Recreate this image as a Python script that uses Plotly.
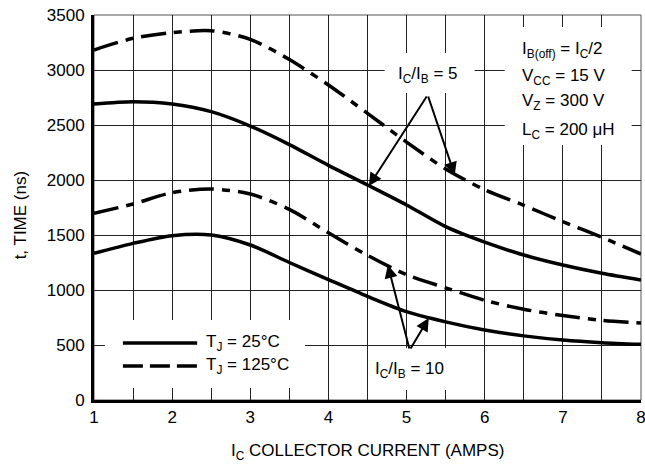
import plotly.graph_objects as go

# ---- data ----
ic_amps = [1, 1.5, 2, 2.5, 3, 3.5, 4, 4.5, 5, 5.5, 6, 6.5, 7, 7.5, 8]
t_25c_ratio10 = [1333, 1424, 1494, 1500, 1409, 1250, 1095, 942, 803, 710, 636, 583, 545, 521, 506]
t_125c_ratio10 = [1697, 1782, 1885, 1918, 1873, 1733, 1520, 1315, 1139, 1020, 906, 825, 768, 725, 700]
t_25c_ratio5 = [2691, 2712, 2691, 2621, 2490, 2322, 2133, 1955, 1773, 1576, 1435, 1318, 1227, 1152, 1091]
t_125c_ratio5 = [3182, 3288, 3339, 3357, 3279, 3095, 2864, 2606, 2345, 2100, 1912, 1770, 1621, 1479, 1327]

x_tick_vals = [1, 1.5, 2, 2.5, 3, 3.5, 4, 4.5, 5, 5.5, 6, 6.5, 7, 7.5, 8]
x_tick_text = ["1", "", "2", "", "3", "", "4", "", "5", "", "6", "", "7", "", "8"]
y_tick_vals = [0, 500, 1000, 1500, 2000, 2500, 3000, 3500]

FONT = "Liberation Sans, Arial, sans-serif"
DASH = "25px,8px,8px,8px"
LW = 3.5

fig = go.Figure()

series = [
    (t_25c_ratio5, "solid", "T_J = 25°C, IC/IB = 5"),
    (t_125c_ratio5, DASH, "T_J = 125°C, IC/IB = 5"),
    (t_25c_ratio10, "solid", "T_J = 25°C, IC/IB = 10"),
    (t_125c_ratio10, DASH, "T_J = 125°C, IC/IB = 10"),
]
for ys, dash, name in series:
    fig.add_trace(go.Scatter(
        x=ic_amps, y=ys, mode="lines", name=name, showlegend=False, hoverinfo="skip",
        line=dict(color="black", width=LW, dash=dash, shape="spline", smoothing=0.8),
    ))

# white boxes that interrupt the grid behind texts
boxes = [
    (6.256, 7.88, 2318, 3391),   # conditions
    (4.72, 5.87, 2791, 3155),    # IC/IB = 5
    (4.53, 5.51, 91, 473),       # IC/IB = 10
    (1.14, 3.70, 109, 727),      # legend
]
for x0, x1, y0, y1 in boxes:
    fig.add_shape(type="rect", xref="x", yref="y", x0=x0, x1=x1, y0=y0, y1=y1,
                  fillcolor="white", line=dict(width=0), layer="between")

# legend samples
fig.add_shape(type="line", xref="x", yref="y", x0=1.37, x1=2.32, y0=518, y1=518,
              line=dict(color="black", width=LW), layer="above")
fig.add_shape(type="line", xref="x", yref="y", x0=1.37, x1=2.32, y0=309, y1=309,
              line=dict(color="black", width=LW, dash="20px,7px"), layer="above")

tf = dict(family=FONT, size=17, color="black")
ann = []
ann.append(dict(x=2.41, y=518, text="T<sub>J</sub> = 25°C", xanchor="left", yanchor="middle"))
ann.append(dict(x=2.41, y=309, text="T<sub>J</sub> = 125°C", xanchor="left", yanchor="middle"))
cond = ["I<sub>B(off)</sub> = I<sub>C</sub>/2", "V<sub>CC</sub> = 15 V",
        "V<sub>Z</sub> = 300 V", "L<sub>C</sub> = 200 μH"]
cond_y = [3180, 2935, 2705, 2450]
for txt, yy in zip(cond, cond_y):
    ann.append(dict(x=6.45, y=yy, text=txt, xanchor="left", yanchor="middle"))
ann.append(dict(x=5.27, y=2959, text="I<sub>C</sub>/I<sub>B</sub> = 5", xanchor="center", yanchor="middle"))
ann.append(dict(x=5.04, y=273, text="I<sub>C</sub>/I<sub>B</sub> = 10", xanchor="center", yanchor="middle"))
for a in ann:
    a.update(xref="x", yref="y", showarrow=False, font=tf)
    fig.add_annotation(**a)

arrows = [
    ((5.27, 2773), (4.517, 1945)),
    ((5.27, 2773), (5.616, 2045)),
    ((5.04, 455), (4.76, 1227)),
    ((5.04, 455), (5.284, 745)),
]
for (ax, ay), (x, y) in arrows:
    fig.add_annotation(x=x, y=y, ax=ax, ay=ay, xref="x", yref="y", axref="x", ayref="y",
                       text="", showarrow=True, arrowhead=2, arrowsize=1.3,
                       arrowwidth=2, arrowcolor="black")

# axis titles
fig.add_annotation(x=0.5, y=-0.1, xref="paper", yref="paper",
                   text="I<sub>C</sub> COLLECTOR CURRENT (AMPS)", showarrow=False,
                   font=dict(family=FONT, size=17, color="black"), xanchor="center", yanchor="top")
fig.add_annotation(x=-0.135, y=0.48, xref="paper", yref="paper",
                   text="t, TIME (ns)", showarrow=False, textangle=-90,
                   font=dict(family=FONT, size=17, color="black"), xanchor="center", yanchor="middle")

# thin top/right border
fig.add_shape(type="rect", xref="paper", yref="paper", x0=0, x1=1, y0=0, y1=1,
              line=dict(color="#555", width=1), layer="below")

fig.update_layout(
    width=645, height=464,
    margin=dict(l=94, r=4, t=15, b=64),
    paper_bgcolor="white", plot_bgcolor="white",
    font=tf, hovermode=False,
)
fig.update_xaxes(range=[1, 8], tickvals=x_tick_vals, ticktext=x_tick_text,
                 showgrid=True, gridcolor="#222", gridwidth=1.2, zeroline=False,
                 showline=True, linecolor="black", linewidth=3, ticks="",
                 tickfont=tf, ticklabeloverflow="allow", automargin=False)
fig.update_yaxes(range=[0, 3500], tickvals=y_tick_vals,
                 showgrid=True, gridcolor="#222", gridwidth=1.2, zeroline=False,
                 showline=True, linecolor="black", linewidth=3, ticks="",
                 tickfont=tf, automargin=False, ticklabelstandoff=3)

fig.write_html("out.html", config={"displayModeBar": False},
               post_script="document.body.style.margin='0';document.body.style.overflow='hidden';")
